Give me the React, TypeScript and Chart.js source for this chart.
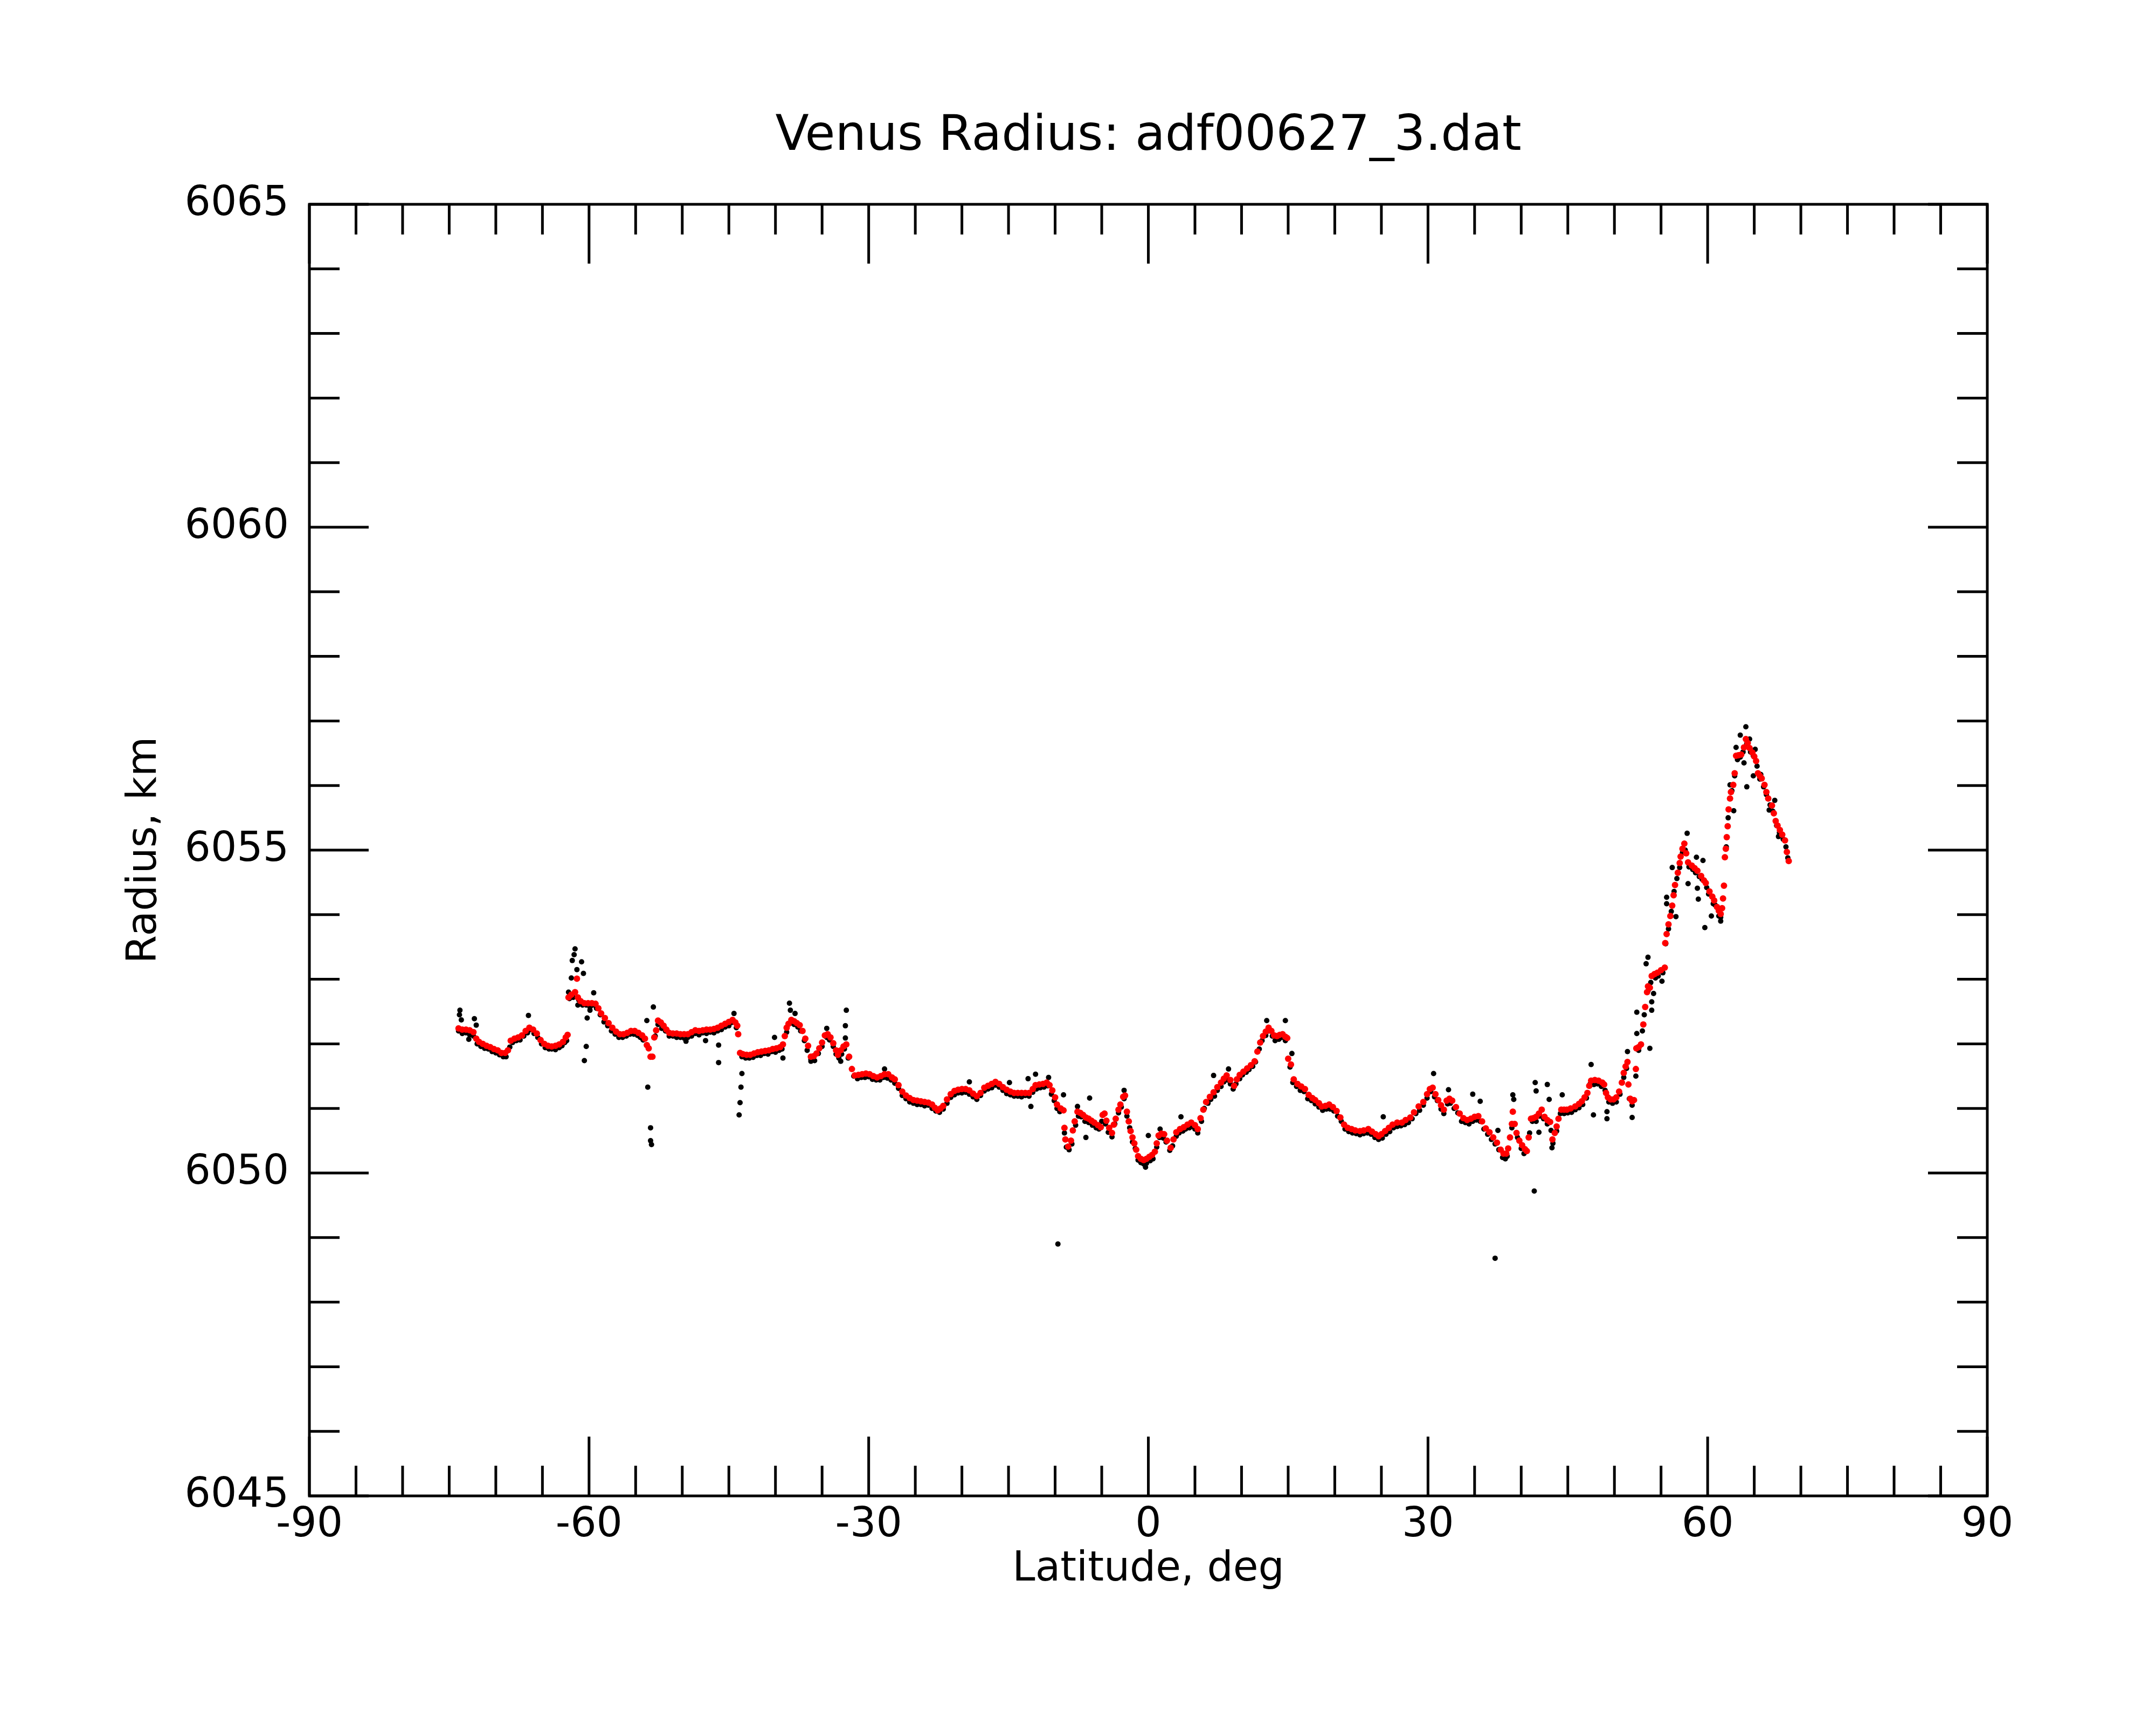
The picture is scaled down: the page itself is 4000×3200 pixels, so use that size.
import { useEffect, useRef } from "react";
import { Chart, registerables } from "chart.js";

Chart.register(...registerables);

const chartTitle = "Venus Radius: adf00627_3.dat";
const xTitle = "Latitude, deg";
const yTitle = "Radius, km";

// Smoothed profile (red)
const redLat = [
  -74.0, -73.6, -73.2, -72.8, -72.4, -72.1, -71.8, -71.4, -71.0, -70.6,
  -70.2, -69.8, -69.4, -69.0, -68.7, -68.4, -68.0, -67.6, -67.2, -66.8,
  -66.4, -66.0, -65.6, -65.2, -64.8, -64.4, -64.0, -63.6, -63.2, -62.8,
  -62.5, -62.3, -62.2, -61.9, -61.5, -61.3, -61.2, -60.9, -60.5, -60.1,
  -59.7, -59.3, -59.0, -58.7, -58.3, -57.9, -57.5, -57.1, -56.7, -56.3,
  -55.9, -55.5, -55.1, -54.7, -54.3, -54.0, -53.8, -53.6, -53.4, -53.2,
  -53.0, -52.8, -52.6, -52.3, -52.0, -51.7, -51.4, -51.0, -50.6, -50.2,
  -49.8, -49.4, -49.0, -48.6, -48.2, -47.8, -47.4, -47.0, -46.6, -46.2,
  -45.8, -45.4, -45.0, -44.6, -44.3, -44.1, -44.0, -43.8, -43.5, -43.1,
  -42.7, -42.3, -41.9, -41.5, -41.1, -40.7, -40.3, -39.9, -39.5, -39.2,
  -39.0, -38.8, -38.6, -38.3, -38.0, -37.7, -37.4, -37.1, -36.8, -36.5,
  -36.2, -35.9, -35.6, -35.3, -35.0, -34.7, -34.4, -34.1, -33.8, -33.5,
  -33.3, -33.0, -32.7, -32.4, -32.1, -31.8, -31.5, -31.1, -30.7, -30.3,
  -29.9, -29.5, -29.1, -28.7, -28.3, -27.9, -27.5, -27.2, -26.8, -26.4,
  -26.0, -25.6, -25.2, -24.8, -24.4, -24.0, -23.6, -23.2, -22.9, -22.6,
  -22.3, -22.0, -21.6, -21.2, -20.8, -20.4, -20.0, -19.6, -19.2, -18.8,
  -18.4, -18.0, -17.6, -17.2, -16.8, -16.4, -16.0, -15.6, -15.2, -14.8,
  -14.4, -14.0, -13.6, -13.2, -12.8, -12.4, -12.1, -11.7, -11.3, -10.9,
  -10.6, -10.3, -10.0, -9.8, -9.4, -9.1, -9.0, -8.9, -8.6, -8.3,
  -8.1, -7.9, -7.6, -7.3, -7.0, -6.7, -6.4, -6.1, -5.8, -5.4,
  -5.1, -4.9, -4.7, -4.5, -4.2, -3.9, -3.7, -3.5, -3.2, -3.0,
  -2.7, -2.5, -2.3, -2.1, -1.9, -1.7, -1.5, -1.3, -1.1, -0.8,
  -0.5, -0.2, 0.1, 0.4, 0.7, 0.9, 1.1, 1.4, 1.7, 2.0,
  2.4, 2.7, 3.0, 3.4, 3.8, 4.2, 4.6, 5.0, 5.3, 5.6,
  5.9, 6.2, 6.6, 7.0, 7.4, 7.8, 8.1, 8.4, 8.8, 9.2,
  9.5, 9.8, 10.2, 10.6, 11.0, 11.4, 11.7, 12.0, 12.3, 12.6,
  12.9, 13.2, 13.5, 13.8, 14.1, 14.4, 14.7, 14.9, 15.0, 15.3,
  15.6, 16.0, 16.4, 16.8, 17.2, 17.6, 17.9, 18.3, 18.6, 19.0,
  19.4, 19.8, 20.2, 20.6, 21.0, 21.4, 21.8, 22.2, 22.7, 23.1,
  23.6, 24.0, 24.4, 24.7, 25.0, 25.4, 25.8, 26.2, 26.7, 27.2,
  27.6, 28.1, 28.5, 29.0, 29.5, 29.9, 30.2, 30.5, 30.8, 31.1,
  31.4, 31.7, 32.0, 32.3, 32.6, 33.0, 33.4, 33.8, 34.2, 34.6,
  35.0, 35.4, 35.8, 36.2, 36.6, 37.0, 37.4, 37.8, 38.1, 38.4,
  38.6, 38.8, 39.0, 39.1, 39.3, 39.5, 39.8, 40.1, 40.4, 40.6,
  40.8, 41.05, 41.3, 41.6, 41.9, 42.2, 42.5, 42.8, 43.1, 43.35,
  43.6, 43.8, 44.0, 44.3, 44.6, 44.9, 45.3, 45.8, 46.2, 46.5,
  46.8, 47.1, 47.3, 47.5, 47.9, 48.3, 48.7, 48.9, 49.1, 49.3,
  49.6, 49.9, 50.2, 50.5, 50.8, 51.0, 51.2, 51.4, 51.5, 51.7,
  51.9, 52.1, 52.3, 52.35, 52.6, 52.85, 53.1, 53.3, 53.5, 53.6,
  53.8, 54.0, 54.3, 54.6, 55.0, 55.4, 55.45, 55.6, 55.8, 56.0,
  56.2, 56.35, 56.5, 56.8, 57.0, 57.1, 57.3, 57.5, 57.7, 57.9,
  58.3, 58.6, 58.9, 59.3, 59.6, 59.8, 60.2, 60.5, 60.7, 61.0,
  61.2, 61.4, 61.55, 61.65, 61.75, 61.85, 61.95, 62.05, 62.15, 62.25,
  62.4, 62.5, 62.75, 62.9, 63.05, 63.3, 63.6, 63.9, 64.1, 64.3,
  64.5, 64.8, 65.0, 65.2, 65.4, 65.6, 65.8, 66.1, 66.3, 66.5,
  66.9, 67.1, 67.3, 67.5, 67.75, 68.0, 68.3, 68.5, 68.7,
];
const redRadius = [
  6052.24, 6052.22, 6052.22, 6052.21, 6052.18, 6052.08, 6052.03, 6052.00, 6051.97, 6051.95,
  6051.92, 6051.90, 6051.86, 6051.86, 6051.90, 6052.05, 6052.08, 6052.10, 6052.13, 6052.20,
  6052.25, 6052.22, 6052.16, 6052.06, 6052.00, 6051.97, 6051.96, 6051.97, 6051.99, 6052.03,
  6052.10, 6052.14, 6052.72, 6052.76, 6052.80, 6053.01, 6052.72, 6052.66, 6052.63, 6052.63,
  6052.63, 6052.62, 6052.55, 6052.47, 6052.40, 6052.32, 6052.25, 6052.19, 6052.15, 6052.15,
  6052.17, 6052.20, 6052.20, 6052.17, 6052.13, 6052.08, 6051.98, 6051.93, 6051.80, 6051.80,
  6052.10, 6052.21, 6052.36, 6052.33, 6052.28, 6052.22, 6052.17, 6052.16, 6052.16, 6052.15,
  6052.15, 6052.15, 6052.18, 6052.21, 6052.20, 6052.21, 6052.22, 6052.22, 6052.23, 6052.25,
  6052.28, 6052.31, 6052.34, 6052.37, 6052.33, 6052.28, 6052.15, 6051.86, 6051.84, 6051.83,
  6051.83, 6051.85, 6051.87, 6051.88, 6051.89, 6051.90, 6051.92, 6051.93, 6051.95, 6051.99,
  6052.12, 6052.25, 6052.31, 6052.37, 6052.35, 6052.32, 6052.29, 6052.20, 6052.08, 6051.97,
  6051.80, 6051.81, 6051.85, 6051.93, 6052.02, 6052.13, 6052.15, 6052.10, 6052.01, 6051.90,
  6051.83, 6051.90, 6051.96, 6051.99, 6051.80, 6051.61, 6051.51, 6051.52, 6051.53, 6051.54,
  6051.53, 6051.50, 6051.48, 6051.50, 6051.53, 6051.53, 6051.48, 6051.45, 6051.36, 6051.26,
  6051.20, 6051.16, 6051.13, 6051.12, 6051.11, 6051.10, 6051.09, 6051.06, 6051.01, 6050.97,
  6051.00, 6051.04, 6051.14, 6051.22, 6051.27, 6051.29, 6051.30, 6051.30, 6051.28, 6051.23,
  6051.19, 6051.24, 6051.32, 6051.35, 6051.38, 6051.41, 6051.38, 6051.33, 6051.29, 6051.26,
  6051.24, 6051.24, 6051.24, 6051.24, 6051.24, 6051.30, 6051.36, 6051.37, 6051.38, 6051.40,
  6051.36, 6051.28, 6051.17, 6051.06, 6051.00, 6050.97, 6050.70, 6050.52, 6050.41, 6050.50,
  6050.66, 6050.80, 6050.95, 6050.93, 6050.90, 6050.86, 6050.84, 6050.81, 6050.78, 6050.74,
  6050.71, 6050.90, 6050.92, 6050.81, 6050.70, 6050.62, 6050.75, 6050.84, 6050.98, 6051.06,
  6051.18, 6051.20, 6050.95, 6050.80, 6050.65, 6050.55, 6050.46, 6050.36, 6050.26, 6050.22,
  6050.20, 6050.22, 6050.25, 6050.28, 6050.33, 6050.46, 6050.58, 6050.61, 6050.60, 6050.50,
  6050.39, 6050.52, 6050.63, 6050.68, 6050.71, 6050.75, 6050.78, 6050.74, 6050.68, 6050.85,
  6050.98, 6051.10, 6051.18, 6051.25, 6051.33, 6051.40, 6051.46, 6051.51, 6051.44, 6051.35,
  6051.45, 6051.52, 6051.57, 6051.62, 6051.67, 6051.73, 6051.88, 6052.02, 6052.12, 6052.19,
  6052.25, 6052.20, 6052.13, 6052.12, 6052.14, 6052.15, 6052.11, 6052.09, 6051.77, 6051.68,
  6051.45, 6051.38, 6051.34, 6051.30, 6051.21, 6051.16, 6051.13, 6051.08, 6051.03, 6051.04,
  6051.06, 6051.02, 6050.96, 6050.86, 6050.75, 6050.70, 6050.68, 6050.66, 6050.65, 6050.66,
  6050.68, 6050.64, 6050.60, 6050.57, 6050.60, 6050.65, 6050.70, 6050.75, 6050.78, 6050.78,
  6050.82, 6050.86, 6050.94, 6051.03, 6051.10, 6051.22, 6051.30, 6051.32, 6051.22, 6051.13,
  6051.05, 6050.98, 6051.12, 6051.15, 6051.12, 6051.02, 6050.92, 6050.85, 6050.82, 6050.84,
  6050.87, 6050.88, 6050.80, 6050.69, 6050.63, 6050.55, 6050.47, 6050.36, 6050.30, 6050.30,
  6050.38, 6050.55, 6050.76, 6050.95, 6050.76, 6050.62, 6050.50, 6050.43, 6050.37, 6050.34,
  6050.55, 6050.84, 6050.85, 6050.87, 6050.92, 6050.98, 6050.87, 6050.82, 6050.79, 6050.52,
  6050.62, 6050.72, 6050.84, 6050.98, 6050.98, 6050.98, 6051.00, 6051.03, 6051.07, 6051.11,
  6051.17, 6051.24, 6051.35, 6051.43, 6051.44, 6051.43, 6051.40, 6051.37, 6051.24, 6051.17,
  6051.14, 6051.14, 6051.17, 6051.26, 6051.40, 6051.55, 6051.65, 6051.72, 6051.37, 6051.15,
  6051.11, 6051.13, 6051.61, 6051.93, 6051.95, 6051.99, 6052.30, 6052.57, 6052.80, 6052.89,
  6052.87, 6053.05, 6053.08, 6053.10, 6053.14, 6053.18, 6053.56, 6053.70, 6053.85, 6053.98,
  6054.14, 6054.30, 6054.46, 6054.65, 6054.80, 6054.90, 6055.02, 6055.10, 6054.95, 6054.81,
  6054.76, 6054.72, 6054.68, 6054.60, 6054.53, 6054.49, 6054.36, 6054.28, 6054.22, 6054.12,
  6054.06, 6054.01, 6054.10, 6054.25, 6054.45, 6054.89, 6055.02, 6055.20, 6055.37, 6055.63,
  6055.80, 6055.90, 6056.01, 6056.19, 6056.46, 6056.47, 6056.48, 6056.59, 6056.72, 6056.66,
  6056.58, 6056.51, 6056.45, 6056.38, 6056.19, 6056.15, 6056.11, 6056.01, 6055.90, 6055.80,
  6055.69, 6055.57, 6055.45, 6055.38, 6055.31, 6055.24, 6055.15, 6054.97, 6054.83,
];

// Raw measurements (black), along the profile
const blackLat = [
  -74.0, -73.2, -72.4, -71.6, -70.8, -70.0, -69.2, -68.5, -67.8, -67.0,
  -66.3, -65.5, -64.7, -64.0, -63.2, -62.6, -62.1, -61.1, -60.3, -59.6,
  -58.8, -58.0, -57.2, -56.4, -55.6, -54.8, -54.2, -52.6, -51.8, -51.0,
  -50.2, -49.4, -48.6, -47.8, -47.0, -46.2, -45.4, -44.7, -43.6, -42.8,
  -42.0, -41.2, -40.4, -39.6, -38.4, -37.6, -36.9, -36.2, -35.4, -34.5,
  -33.8, -33.2, -32.6, -31.6, -30.8, -30.0, -29.2, -28.4, -27.6, -26.8,
  -26.0, -25.2, -24.4, -23.6, -22.8, -22.0, -21.2, -20.4, -19.6, -18.8,
  -18.0, -17.2, -16.4, -15.6, -14.8, -14.0, -13.2, -12.4, -11.6, -10.8,
  -10.1, -9.5, -8.8, -8.2, -7.5, -6.8, -6.0, -5.3, -4.6, -3.9,
  -3.2, -2.6, -2.0, -1.4, -0.8, -0.2, 0.5, 1.2, 1.9, 2.6,
  3.3, 4.0, 4.7, 5.3, 6.0, 6.7, 7.4, 8.1, 8.8, 9.4,
  10.1, 10.8, 11.5, 12.2, 12.9, 13.6, 14.3, 15.2, 15.9, 16.7,
  17.5, 18.3, 19.1, 19.9, 20.7, 21.5, 22.3, 23.1, 23.9, 24.7,
  25.5, 26.3, 27.1, 27.9, 28.7, 29.5, 30.3, 31.0, 31.7, 32.4,
  33.2, 34.0, 34.8, 35.6, 36.4, 37.2, 38.0, 38.5, 39.6, 40.3,
  41.2, 42.0, 42.8, 43.4, 44.2, 45.0, 45.8, 46.6, 47.4, 48.2,
  49.0, 49.8, 50.6, 51.3, 51.9, 52.6, 53.2, 53.9, 54.7, 55.5,
  56.1, 56.7, 57.3, 58.0, 58.7, 59.4, 60.1, 60.8, 61.4, 62.2,
  62.9, 63.5, 64.2, 64.9, 65.6, 66.3, 67.0, 67.7, 68.4,
];
const blackRadius = [
  6052.20, 6052.17, 6052.12, 6051.96, 6051.92, 6051.86, 6051.80, 6051.95, 6052.05, 6052.12,
  6052.22, 6052.10, 6051.94, 6051.92, 6051.94, 6052.02, 6052.70, 6052.68, 6052.60, 6052.60,
  6052.45, 6052.28, 6052.15, 6052.10, 6052.15, 6052.13, 6052.06, 6052.30, 6052.20, 6052.12,
  6052.10, 6052.10, 6052.16, 6052.17, 6052.18, 6052.20, 6052.26, 6052.33, 6051.80, 6051.78,
  6051.82, 6051.85, 6051.88, 6051.90, 6052.32, 6052.26, 6052.05, 6051.76, 6051.85, 6052.10,
  6051.96, 6051.78, 6051.92, 6051.50, 6051.48, 6051.49, 6051.44, 6051.48, 6051.44, 6051.31,
  6051.15, 6051.08, 6051.06, 6051.05, 6050.96, 6050.99, 6051.17, 6051.24, 6051.25, 6051.18,
  6051.20, 6051.30, 6051.36, 6051.28, 6051.21, 6051.19, 6051.20, 6051.25, 6051.32, 6051.35,
  6051.12, 6050.95, 6050.40, 6050.45, 6050.88, 6050.80, 6050.74, 6050.68, 6050.76, 6050.56,
  6050.93, 6051.15, 6050.70, 6050.38, 6050.16, 6050.15, 6050.22, 6050.55, 6050.48, 6050.42,
  6050.62, 6050.68, 6050.72, 6050.62, 6051.00, 6051.14, 6051.28, 6051.41, 6051.38, 6051.38,
  6051.52, 6051.60, 6051.72, 6052.05, 6052.20, 6052.05, 6052.10, 6051.64, 6051.34, 6051.26,
  6051.12, 6051.02, 6050.99, 6050.96, 6050.80, 6050.64, 6050.61, 6050.61, 6050.60, 6050.52,
  6050.60, 6050.70, 6050.73, 6050.78, 6050.92, 6051.05, 6051.26, 6051.12, 6050.92, 6051.08,
  6050.93, 6050.78, 6050.80, 6050.80, 6050.60, 6050.45, 6050.24, 6050.26, 6050.55, 6050.30,
  6050.80, 6050.88, 6050.76, 6050.46, 6050.92, 6050.93, 6050.98, 6051.06, 6051.38, 6051.38,
  6051.28, 6051.08, 6051.22, 6051.62, 6051.05, 6051.90, 6052.45, 6052.95, 6053.05, 6053.55,
  6054.05, 6054.56, 6054.96, 6054.74, 6054.65, 6054.55, 6054.32, 6054.15, 6053.96, 6055.50,
  6056.15, 6056.44, 6056.65, 6056.46, 6056.10, 6055.86, 6055.60, 6055.27, 6055.05,
];

// More raw measurements (black) just under the profile
const shadowLat = [
  -73.6, -72.8, -72.0, -71.2, -70.4, -69.6, -68.9, -68.2, -67.4, -66.6,
  -65.9, -65.1, -64.3, -63.6, -62.9, -62.4, -61.7, -60.7, -59.9, -59.2,
  -58.4, -57.6, -56.8, -56.0, -55.2, -54.5, -52.9, -52.2, -51.4, -50.6,
  -49.8, -49.0, -48.2, -47.4, -46.6, -45.8, -45.0, -44.2, -43.2, -42.4,
  -41.6, -40.8, -40.0, -39.3, -38.8, -38.0, -37.3, -36.6, -35.8, -35.0,
  -34.2, -33.5, -32.9, -32.2, -31.2, -30.4, -29.6, -28.8, -28.0, -27.2,
  -26.4, -25.6, -24.8, -24.0, -23.2, -22.4, -21.6, -20.8, -20.0, -19.2,
  -18.4, -17.6, -16.8, -16.0, -15.2, -14.4, -13.6, -12.8, -12.0, -11.2,
  -10.4, -9.8, -9.0, -8.5, -7.8, -7.2, -6.4, -5.6, -5.0, -4.3,
  -3.6, -2.9, -2.3, -1.7, -1.1, -0.5, 0.2, 0.9, 1.6, 2.3,
  3.0, 3.7, 4.4, 5.0, 5.7, 6.4, 7.1, 7.8, 8.5, 9.1,
  9.8, 10.5, 11.2, 11.9, 12.6, 13.3, 14.0, 14.7, 15.5, 16.3,
  17.1, 17.9, 18.7, 19.5, 20.3, 21.1, 21.9, 22.7, 23.5, 24.3,
  25.1, 25.9, 26.7, 27.5, 28.3, 29.1, 29.9, 30.7, 31.4, 32.1,
  32.8, 33.6, 34.4, 35.2, 36.0, 36.8, 37.6, 38.3, 39.0, 40.0,
  40.9, 41.6, 42.4, 43.2, 43.8, 44.6, 45.4, 46.2, 47.0, 47.8,
  48.6, 49.4, 50.2, 51.0, 51.6, 52.3, 53.0, 53.6, 54.4, 55.2,
  55.8, 56.4, 57.0, 57.6, 58.4, 59.1, 59.9, 60.6, 61.2, 62.0,
  62.6, 63.2, 63.8, 64.6, 65.3, 66.0, 66.7, 67.4, 68.1, 68.6,
];
const shadowRadius = [
  6052.16, 6052.14, 6052.00, 6051.93, 6051.88, 6051.83, 6051.80, 6052.02, 6052.06, 6052.17,
  6052.16, 6052.00, 6051.92, 6051.91, 6051.97, 6052.05, 6052.72, 6052.60, 6052.57, 6052.55,
  6052.34, 6052.20, 6052.10, 6052.12, 6052.15, 6052.10, 6052.12, 6052.24, 6052.12, 6052.10,
  6052.09, 6052.12, 6052.14, 6052.16, 6052.17, 6052.22, 6052.28, 6052.25, 6051.78, 6051.79,
  6051.82, 6051.84, 6051.87, 6051.92, 6052.18, 6052.30, 6052.20, 6051.90, 6051.74, 6051.96,
  6052.06, 6051.84, 6051.84, 6051.78, 6051.46, 6051.48, 6051.45, 6051.44, 6051.47, 6051.39,
  6051.20, 6051.10, 6051.06, 6051.04, 6051.00, 6050.94, 6051.08, 6051.21, 6051.24, 6051.22,
  6051.14, 6051.27, 6051.32, 6051.33, 6051.23, 6051.19, 6051.18, 6051.19, 6051.30, 6051.33,
  6051.22, 6051.00, 6050.62, 6050.36, 6050.74, 6050.87, 6050.78, 6050.70, 6050.80, 6050.63,
  6050.76, 6051.02, 6050.88, 6050.48, 6050.20, 6050.14, 6050.19, 6050.40, 6050.54, 6050.35,
  6050.57, 6050.65, 6050.70, 6050.68, 6050.80, 6051.08, 6051.19, 6051.34, 6051.44, 6051.30,
  6051.46, 6051.56, 6051.65, 6051.92, 6052.13, 6052.12, 6052.07, 6052.05, 6051.40, 6051.28,
  6051.15, 6051.07, 6050.97, 6050.99, 6050.88, 6050.68, 6050.62, 6050.59, 6050.62, 6050.55,
  6050.54, 6050.64, 6050.72, 6050.75, 6050.84, 6050.97, 6051.16, 6051.18, 6050.99, 6051.07,
  6051.00, 6050.80, 6050.76, 6050.82, 6050.68, 6050.52, 6050.36, 6050.22, 6050.70, 6050.38,
  6050.62, 6050.80, 6050.84, 6050.66, 6050.65, 6050.92, 6050.94, 6051.01, 6051.16, 6051.37,
  6051.34, 6051.10, 6051.10, 6051.48, 6051.15, 6051.50, 6052.20, 6052.82, 6053.02, 6053.10,
  6053.78, 6054.36, 6054.73, 6055.00, 6054.70, 6054.59, 6054.42, 6054.17, 6053.98, 6055.05,
  6055.92, 6056.40, 6056.52, 6056.52, 6056.30, 6055.98, 6055.70, 6055.38, 6055.17, 6054.88,
];

// Raw measurements (black), scattered away from the profile
const outlierLat = [
  -73.85, -73.7, -72.3, -72.1, -72.9, -66.5, -61.5, -61.6, -61.8, -60.8,
  -60.6, -61.9, -62.2, -59.5, -61.2, -59.9, -60.2, -60.3, -60.5, -53.1,
  -53.8, -53.7, -53.4, -53.4, -53.3, -49.6, -47.5, -46.1, -46.1, -44.45,
  -43.6, -43.7, -43.8, -43.9, -38.5, -38.4, -37.9, -40.1, -32.4, -32.5,
  -32.5, -34.5, -36.2, -33.0, -39.2, -28.3, -19.2, -14.9, -12.9, -12.1,
  -10.7, -12.6, -9.7, -9.1, -7.6, -6.3, -6.7, -2.6, -0.3, 0.0,
  1.26, 3.5, 7.0, 8.6, 12.7, 14.7, 15.4, 25.2, 30.6, 32.2,
  34.8, 35.6, 37.5, 39.1, 39.2, 41.5, 41.6, 42.8, 43.0, 44.4,
  41.4, 43.3, 41.9, 47.5, 47.75, 49.2, 49.2, 51.9, 51.4, 52.4,
  52.4, 53.8, 54.0, 54.0, 53.4, 53.6, 54.2, 55.1, 55.5, 55.6,
  55.6, 56.6, 56.2, 57.8, 57.9, 58.8, 59.5, 58.9, 59.0, 59.7,
  60.4, 61.4, 62.8, 62.4, 63.05, 63.5, 64.1, 63.9, 64.2, 64.9,
  64.5, 65.1, 65.7, 67.2, 66.6, 67.6, 68.0, 37.2, -61.3, -73.9,
];
const outlierRadius = [
  6052.52, 6052.37, 6052.39, 6052.29, 6052.07, 6052.44, 6053.47, 6053.38, 6053.29, 6053.27,
  6053.09, 6053.02, 6052.80, 6052.79, 6052.60, 6052.52, 6052.40, 6051.96, 6051.74, 6052.57,
  6052.36, 6051.33, 6050.70, 6050.50, 6050.44, 6052.04, 6052.05, 6051.98, 6051.71, 6052.47,
  6051.54, 6051.33, 6051.09, 6050.90, 6052.63, 6052.52, 6052.47, 6052.10, 6052.52, 6052.28,
  6052.09, 6052.24, 6051.73, 6051.73, 6051.78, 6051.61, 6051.41, 6051.40, 6051.46, 6051.53,
  6051.48, 6051.03, 6048.90, 6051.21, 6051.03, 6051.16, 6050.55, 6051.28, 6050.09, 6050.58,
  6050.68, 6050.87, 6051.51, 6051.61, 6052.36, 6052.36, 6051.85, 6050.87, 6051.54, 6051.29,
  6051.22, 6051.11, 6050.66, 6051.21, 6051.14, 6051.40, 6051.27, 6051.37, 6051.14, 6051.21,
  6049.72, 6050.39, 6050.63, 6051.68, 6050.90, 6050.84, 6050.95, 6050.86, 6051.88, 6052.49,
  6052.16, 6051.93, 6052.52, 6052.65, 6053.24, 6053.34, 6052.78, 6052.97, 6053.56, 6054.17,
  6054.27, 6053.97, 6054.73, 6055.26, 6054.48, 6054.89, 6054.84, 6054.41, 6054.24, 6053.80,
  6053.98, 6053.90, 6055.61, 6056.01, 6056.59, 6056.78, 6056.91, 6056.35, 6055.98, 6056.15,
  6056.72, 6056.56, 6056.17, 6055.77, 6055.62, 6055.21, 6055.23, 6048.68, 6053.15, 6052.45,
];

const xTickValues = [
  -90, -85, -80, -75, -70, -65, -60, -55, -50, -45, -40, -35, -30, -25, -20, -15, -10, -5,
  0, 5, 10, 15, 20, 25, 30, 35, 40, 45, 50, 55, 60, 65, 70, 75, 80, 85, 90,
];
const xMajorTicks = [-90, -60, -30, 0, 30, 60, 90];
const yTickValues = [
  6045, 6046, 6047, 6048, 6049, 6050, 6051, 6052, 6053, 6054, 6055,
  6056, 6057, 6058, 6059, 6060, 6061, 6062, 6063, 6064, 6065,
];
const yMajorTicks = [6045, 6050, 6055, 6060, 6065];

const FONT = "'DejaVu Sans', 'Liberation Sans', sans-serif";

const frameTicksPlugin = {
  id: "frameTicks",
  afterDraw(chart: any) {
    const { ctx, chartArea: a, scales } = chart;
    const xs = scales.x;
    const ys = scales.y;
    ctx.save();
    ctx.strokeStyle = "#000000";
    ctx.lineWidth = 5;
    ctx.lineCap = "butt";
    ctx.beginPath();
    for (const v of xTickValues) {
      const px = xs.getPixelForValue(v);
      const len = xMajorTicks.includes(v) ? 110 : 56;
      ctx.moveTo(px, a.bottom);
      ctx.lineTo(px, a.bottom - len);
      ctx.moveTo(px, a.top);
      ctx.lineTo(px, a.top + len);
    }
    for (const v of yTickValues) {
      const py = ys.getPixelForValue(v);
      const len = yMajorTicks.includes(v) ? 110 : 56;
      ctx.moveTo(a.left, py);
      ctx.lineTo(a.left + len, py);
      ctx.moveTo(a.right, py);
      ctx.lineTo(a.right - len, py);
    }
    ctx.stroke();
    ctx.lineJoin = "miter";
    ctx.strokeRect(a.left, a.top, a.right - a.left, a.bottom - a.top);
    ctx.restore();
  },
};

export default function App() {
  const ref = useRef<HTMLCanvasElement | null>(null);

  useEffect(() => {
    document.body.style.margin = "0";
    const canvas = ref.current;
    if (!canvas) return;

    const redPts = redLat.map((x, i) => ({ x, y: redRadius[i] }));
    const blackPts = blackLat
      .map((x, i) => ({ x, y: blackRadius[i] }))
      .concat(shadowLat.map((x, i) => ({ x, y: shadowRadius[i] })))
      .concat(outlierLat.map((x, i) => ({ x, y: outlierRadius[i] })));

    const chart = new Chart(canvas, {
      type: "scatter",
      data: {
        datasets: [
          {
            label: "Smoothed",
            data: redPts,
            pointRadius: 6,
            pointBackgroundColor: "#ff0000",
            pointBorderWidth: 0,
            pointBorderColor: "#ff0000",
            showLine: false,
            order: 1,
          },
          {
            label: "Raw",
            data: blackPts,
            pointRadius: 5,
            pointBackgroundColor: "#000000",
            pointBorderWidth: 0,
            pointBorderColor: "#000000",
            showLine: false,
            order: 2,
          },
        ],
      },
      options: {
        responsive: false,
        maintainAspectRatio: false,
        devicePixelRatio: 1,
        animation: false,
        events: [],
        layout: { padding: { left: 0, top: 0, right: 313, bottom: 242.4 } },
        plugins: {
          legend: { display: false },
          tooltip: { enabled: false },
          title: {
            display: true,
            text: chartTitle,
            color: "#000000",
            fullSize: false,
            font: { family: FONT, size: 91, weight: "normal", lineHeight: 1.2 },
            padding: { top: 199.8, bottom: 70 },
          },
        },
        scales: {
          x: {
            type: "linear",
            position: "bottom",
            min: -90,
            max: 90,
            grid: { display: false, drawTicks: false },
            border: { display: false },
            ticks: {
              stepSize: 30,
              color: "#000000",
              padding: 10,
              maxRotation: 0,
              autoSkip: false,
              font: { family: FONT, size: 76, lineHeight: 1.2 },
              callback: (v: any) => String(v),
            },
            title: {
              display: true,
              text: xTitle,
              color: "#000000",
              font: { family: FONT, size: 76, lineHeight: 1.2 },
              padding: { top: 0, bottom: 0 },
            },
            afterFit: (s: any) => {
              s.height = 182.6;
            },
          },
          y: {
            type: "linear",
            position: "left",
            min: 6045,
            max: 6065,
            grid: { display: false, drawTicks: false },
            border: { display: false },
            ticks: {
              stepSize: 5,
              color: "#000000",
              padding: 38,
              autoSkip: false,
              font: { family: FONT, size: 76, lineHeight: 1.2 },
              callback: (v: any) => String(v),
            },
            title: {
              display: true,
              text: yTitle,
              color: "#000000",
              font: { family: FONT, size: 76, lineHeight: 1.2 },
              padding: { top: 224, bottom: 0 },
            },
            afterFit: (s: any) => {
              s.width = 574;
            },
          },
        },
      },
      plugins: [frameTicksPlugin],
    });

    return () => chart.destroy();
  }, []);

  return <canvas ref={ref} width={4000} height={3200} style={{ display: "block" }} />;
}
